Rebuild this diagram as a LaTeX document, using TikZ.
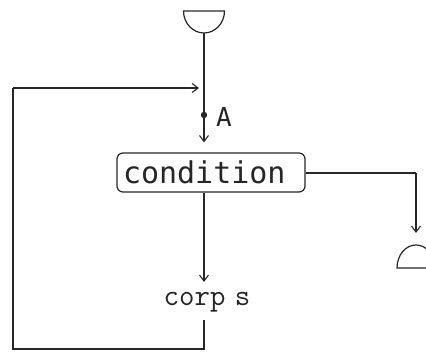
\documentclass[tikz,border=0pt]{standalone}
\usepackage{fontspec}
\newfontfamily\condfont{DejaVu Sans Mono}
\usetikzlibrary{arrows.meta}
\begin{document}
\begin{tikzpicture}[x=1pt,y=1pt,
  ink/.style={draw=black!85, line width=1.2pt},
  flow/.style={ink, -{Straight Barb[length=6pt,width=9pt,line width=1.1pt]}},
  condbox/.style={ink, rounded corners=6pt, inner xsep=6pt, inner ysep=0pt,
    minimum width=188pt, minimum height=39pt, text width=176pt, align=left,
    font=\condfont\fontsize{30}{30}\selectfont, text=black!85},
  bodytext/.style={inner sep=0pt, font=\ttfamily\fontsize{30}{30}\selectfont, text=black!85},
  terminal/.style={ink}
]
\useasboundingbox (0,0) rectangle (426,352);
\clip (0,0) rectangle (426,352);

% entry terminal (half disc, flat side up)
\coordinate (start) at (204,319);
\draw[terminal] (224.5,341) arc[start angle=0, end angle=-180, x radius=20.5, y radius=22] -- cycle;

% exit terminal (half disc, flat side down)
\coordinate (stop) at (416,107);
\draw[terminal] (397,84) arc[start angle=180, end angle=0, x radius=19, y radius=23] -- cycle;

% loop test and body
\node[condbox] (cond) at (211,179.5) {condition};
\node[bodytext] (body) at (207,50) {corp\hspace{-6pt} s};

% point A on the entry line
\coordinate (ptA) at (204,237);
\fill[black!85] (ptA) circle (3.2pt);
\node[font=\condfont\fontsize{26}{26}\selectfont, text=black!85, inner sep=0pt] (labA) at (224,235) {A};

% loop back-edge
\coordinate (bodyOut) at (204,32);
\coordinate (loopBR) at (204,3);
\coordinate (loopBL) at (13,3);
\coordinate (loopTL) at (13,264);
\coordinate (loopIn) at (204,264);

% exit edge corners
\coordinate (exitR) at (416,179);

% connectors
\draw[ink] (start) -- (ptA);
\draw[flow, shorten >=10pt] (ptA) -- (cond.north -| ptA);
\draw[flow] (cond.south -| ptA) -- (204,70);
\draw[ink] (bodyOut) -- (loopBR) -- (loopBL) -- (loopTL);
\draw[flow, shorten >=5pt] (loopTL) -- (loopIn);
\draw[ink] (cond.east |- exitR) -- (exitR);
\draw[flow, shorten >=12pt] (exitR) -- (stop);
\end{tikzpicture}
\end{document}
